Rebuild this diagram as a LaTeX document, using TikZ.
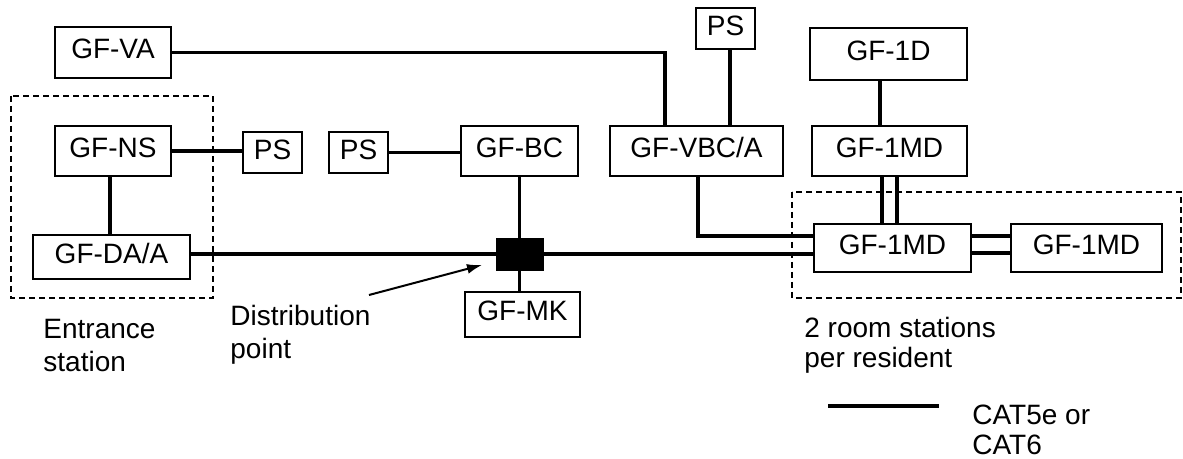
\documentclass[tikz,border=0pt]{standalone}
\usepackage{fontspec}
\setmainfont{Liberation Sans}
\usepackage{tikz}
\usepackage{xcolor}
\usetikzlibrary{arrows.meta}

\begin{document}
\begin{tikzpicture}[x=0.5pt,y=-0.5pt,
  font=\fontsize{14pt}{16pt}\selectfont,
  box/.style={draw,line width=0.8pt,inner sep=2pt,text depth=3.5pt},
  cable/.style={line width=1.6pt},
  group/.style={draw,dashed,line width=1pt,dash pattern=on 3pt off 2pt},
  label/.style={anchor=north west,align=left,inner sep=0pt}]
\useasboundingbox (0,0) rectangle (1183,459);
\begin{scope}[>={Latex[length=7.5pt,width=5pt]}]
% entrance side
\draw[group] (11,96) rectangle (213,298);
\node[box,minimum width=58pt,minimum height=25.5pt] (va) at (113,52.5) {GF-VA};
\node[box,minimum width=58pt,minimum height=25pt] (ns) at (113,151) {GF-NS};
\node[box,minimum width=78.5pt,minimum height=22pt] (daa) at (111.5,257) {GF-DA/A};
\node[box,minimum width=29.5pt,minimum height=20.5pt,text depth=2.5pt] (ps1) at (272.5,152.5) {PS};
\node[box,minimum width=29.5pt,minimum height=20.5pt,text depth=2.5pt] (ps2) at (358.5,152.5) {PS};
% middle
\node[box,minimum width=58.5pt,minimum height=25pt] (bc) at (519.5,151) {GF-BC};
\node[draw,fill=black,minimum width=23.5pt,minimum height=16pt,inner sep=0pt] (dp) at (519.5,254) {};
\node[box,minimum width=57.5pt,minimum height=22.5pt] (mk) at (522.5,314.5) {GF-MK};
\node[box,minimum width=86.5pt,minimum height=25pt] (vbc) at (696.5,151) {GF-VBC/A};
\node[box,minimum width=29.5pt,minimum height=20.5pt,text depth=2.5pt] (pstop) at (725.5,28.5) {PS};
% room side
\draw[group] (792,192) rectangle (1181,298);
\node[box,minimum width=78.5pt,minimum height=26pt] (d1) at (888.5,54) {GF-1D};
\node[box,minimum width=77.5pt,minimum height=25pt] (md1) at (889.5,151) {GF-1MD};
\node[box,minimum width=78.5pt,minimum height=24pt] (md2) at (892.5,248) {GF-1MD};
\node[box,minimum width=75.5pt,minimum height=24pt] (md3) at (1086.5,248) {GF-1MD};
% cables
\draw[cable] (va.east) -| ([xshift=-15.75pt]vbc.north);
\draw[cable] ([xshift=2.25pt]pstop.south) -- ([xshift=2.25pt]pstop.south |- vbc.north);
\draw[cable] (ns.east) -- (ns.east -| ps1.west);
\draw[cable] (ps2.east) -- (ps2.east -| bc.west);
\draw[cable] ([xshift=-1.5pt]ns.south) -- ([xshift=-1.5pt]ns.south |- daa.north);
\draw[cable] (daa.east |- dp) -- (dp.west);
\draw[cable] (dp.east) -- (dp -| md2.west);
\draw[cable] (bc.south) -- (dp.north);
\draw[cable] (dp.south) -- (dp.south |- mk.north);
\draw[cable] ([xshift=0.75pt]vbc.south) |- ([yshift=6pt]md2.west);
\draw[cable] ([xshift=-4.25pt]d1.south) -- ([xshift=-4.25pt]d1.south |- md1.north);
\draw[cable] ([xshift=-3.75pt]md1.south) -- ([xshift=-3.75pt]md1.south |- md2.north);
\draw[cable] ([xshift=3.75pt]md1.south) -- ([xshift=3.75pt]md1.south |- md2.north);
\draw[cable] ([yshift=6pt]md2.east) -- ([yshift=6pt]md3.west);
\draw[cable] ([yshift=-2.5pt]md2.east) -- ([yshift=-2.5pt]md3.west);
% labels
\node[label] (entr) at (43,319) {Entrance\\[0.5pt]station};
\node[label] (dptext) at (230,305) {Distribution\\[0.5pt]point};
\node[label] (rooms) at (804,317) {2 room stations\\[-1pt]per resident};
\coordinate (tail) at (369,295);
\coordinate (tip) at (482,265);
\draw[line width=1pt,->] (tail) -- (tip);
% legend
\coordinate (legA) at (828,406);
\coordinate (legB) at (939,406);
\draw[cable] (legA) -- (legB);
\node[label] (cat) at (972,405) {CAT5e or\\[-1pt]CAT6};
\end{scope}
\end{tikzpicture}
\end{document}
